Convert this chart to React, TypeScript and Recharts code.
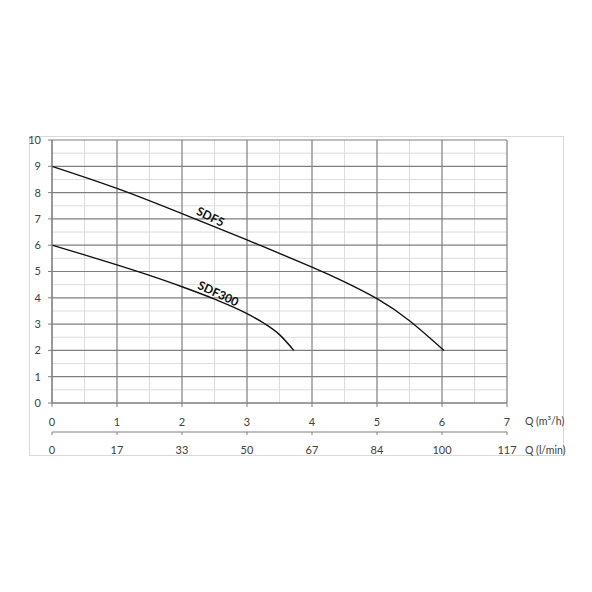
import React from "react";
import {
  LineChart,
  Line,
  XAxis,
  YAxis,
  CartesianGrid,
  ReferenceDot,
} from "recharts";

// flow ticks (m³/h) and matching l/min labels
const qTicks = [0, 1, 2, 3, 4, 5, 6, 7];
const lminLabels = ["0", "17", "33", "50", "67", "84", "100", "117"];
const headTicks = [0, 1, 2, 3, 4, 5, 6, 7, 8, 9, 10];
const qMinor = [0.5, 1.5, 2.5, 3.5, 4.5, 5.5, 6.5];
const headMinor = [0.5, 1.5, 2.5, 3.5, 4.5, 5.5, 6.5, 7.5, 8.5, 9.5];

// pump curves
const sdf5Q = [0, 1, 2, 3, 4, 4.5, 5, 5.5, 6.03];
const sdf5H = [9, 8.16, 7.2, 6.2, 5.17, 4.61, 3.97, 3.13, 2.0];
const sdf300Q = [0, 0.5, 1, 1.5, 2, 2.5, 3, 3.25, 3.5, 3.72];
const sdf300H = [6, 5.63, 5.25, 4.85, 4.42, 3.95, 3.4, 3.05, 2.6, 2.0];

const sdf5 = sdf5Q.map((q, i) => ({ q, h: sdf5H[i] }));
const sdf300 = sdf300Q.map((q, i) => ({ q, h: sdf300H[i] }));

const FONT = "Lato, 'Open Sans', sans-serif";
const tickStyle = { fontSize: 11, fill: "#404040", fontFamily: FONT };
const axisStroke = "#7f7f7f";

const curveLabel = (text: string, angle: number) => (p: any) => (
  <text
    x={p.cx}
    y={p.cy}
    textAnchor="middle"
    dominantBaseline="central"
    transform={`rotate(${angle} ${p.cx} ${p.cy})`}
    fontFamily={FONT}
    fontWeight="bold"
    fontSize={12}
    fill="#111"
  >
    {text}
  </text>
);

export default function App() {
  return (
    <div style={{ position: "absolute", left: 0, top: 0, width: 592, height: 592, background: "#fff" }}>
      <div
        style={{
          position: "absolute",
          left: 29,
          top: 136,
          width: 533,
          height: 318,
          border: "1px solid #d9d9d9",
        }}
      />
      <div style={{ position: "absolute", left: 0, top: 0 }}>
        <LineChart
          width={592}
          height={592}
          margin={{ top: 140, right: 85, left: 22, bottom: 135 }}
        >
          <CartesianGrid
            stroke="#dcdcdc"
            verticalValues={qMinor}
            horizontalValues={headMinor}
          />
          <CartesianGrid
            stroke={axisStroke}
            strokeWidth={1.2}
            verticalValues={qTicks}
            horizontalValues={headTicks}
          />
          <XAxis
            dataKey="q"
            type="number"
            domain={[0, 7]}
            ticks={qTicks}
            interval={0}
            allowDuplicatedCategory={false}
            height={29}
            tickSize={4}
            tickMargin={11}
            stroke={axisStroke}
            tick={tickStyle}
            label={{
              value: "Q (m³/h)",
              position: "right",
              offset: 0,
              dx: 18,
              dy: 4,
              style: { fontSize: 10.5, fill: "#404040", fontFamily: FONT, textAnchor: "start" },
            }}
          />
          <XAxis
            xAxisId="lmin"
            dataKey="q"
            type="number"
            domain={[0, 7]}
            allowDataOverflow
            ticks={qTicks}
            interval={0}
            height={25}
            tickSize={3}
            tickMargin={11}
            stroke={axisStroke}
            tick={tickStyle}
            tickFormatter={(v: number) => lminLabels[qTicks.indexOf(v)] ?? ""}
            label={{
              value: "Q (l/min)",
              position: "right",
              offset: 0,
              dx: 18,
              dy: 6,
              style: { fontSize: 10.5, fill: "#404040", fontFamily: FONT, textAnchor: "start" },
            }}
          />
          <YAxis
            type="number"
            domain={[0, 10]}
            ticks={headTicks}
            interval={0}
            width={30}
            tickSize={4}
            tickMargin={7}
            stroke={axisStroke}
            tick={tickStyle}
          />
          <Line
            data={sdf5}
            dataKey="h"
            type="natural"
            stroke="#111"
            strokeWidth={1.4}
            dot={false}
            isAnimationActive={false}
          />
          <Line
            data={sdf300}
            dataKey="h"
            type="monotone"
            stroke="#111"
            strokeWidth={1.4}
            dot={false}
            isAnimationActive={false}
          />
          {/* invisible copy so the l/min axis has data to build its ticks from */}
          <Line
            xAxisId="lmin"
            data={sdf5}
            dataKey="h"
            stroke="none"
            dot={false}
            activeDot={false}
            legendType="none"
            isAnimationActive={false}
          />
          <ReferenceDot x={2.44} y={7.09} r={0} shape={curveLabel("SDF5", 26)} />
          <ReferenceDot x={2.56} y={4.17} r={0} shape={curveLabel("SDF300", 25)} />
        </LineChart>
      </div>
    </div>
  );
}
